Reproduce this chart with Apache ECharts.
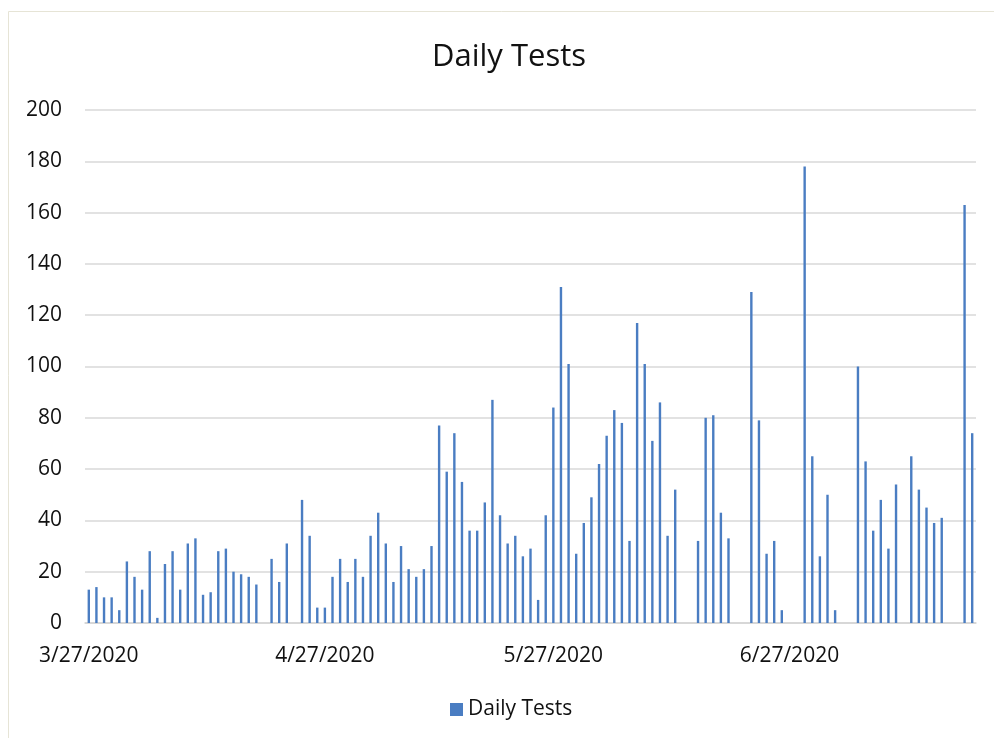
<!DOCTYPE html>
<html>
<head>
<meta charset="utf-8">
<script src="https://cdn.jsdelivr.net/npm/echarts@6/dist/echarts.min.js"></script>
<style>
html,body{margin:0;padding:0;background:#fff;}
#chart{width:994px;height:738px;}
</style>
</head>
<body>
<div id="chart"></div>
<script>
var dates = [
 '3/27/2020','3/28/2020','3/29/2020','3/30/2020','3/31/2020',
 '4/1/2020','4/2/2020','4/3/2020','4/4/2020','4/5/2020','4/6/2020','4/7/2020','4/8/2020','4/9/2020','4/10/2020',
 '4/11/2020','4/12/2020','4/13/2020','4/14/2020','4/15/2020','4/16/2020','4/17/2020','4/18/2020','4/19/2020','4/20/2020',
 '4/21/2020','4/22/2020','4/23/2020','4/24/2020','4/25/2020','4/26/2020','4/27/2020','4/28/2020','4/29/2020','4/30/2020',
 '5/1/2020','5/2/2020','5/3/2020','5/4/2020','5/5/2020','5/6/2020','5/7/2020','5/8/2020','5/9/2020','5/10/2020',
 '5/11/2020','5/12/2020','5/13/2020','5/14/2020','5/15/2020','5/16/2020','5/17/2020','5/18/2020','5/19/2020','5/20/2020',
 '5/21/2020','5/22/2020','5/23/2020','5/24/2020','5/25/2020','5/26/2020','5/27/2020','5/28/2020','5/29/2020','5/30/2020','5/31/2020',
 '6/1/2020','6/2/2020','6/3/2020','6/4/2020','6/5/2020','6/6/2020','6/7/2020','6/8/2020','6/9/2020','6/10/2020',
 '6/11/2020','6/12/2020','6/13/2020','6/14/2020','6/15/2020','6/16/2020','6/17/2020','6/18/2020','6/19/2020','6/20/2020',
 '6/21/2020','6/22/2020','6/23/2020','6/24/2020','6/25/2020','6/26/2020','6/27/2020','6/28/2020','6/29/2020','6/30/2020',
 '7/1/2020','7/2/2020','7/3/2020','7/4/2020','7/5/2020','7/6/2020','7/7/2020','7/8/2020','7/9/2020','7/10/2020',
 '7/11/2020','7/12/2020','7/13/2020','7/14/2020','7/15/2020','7/16/2020','7/17/2020','7/18/2020','7/19/2020','7/20/2020','7/21/2020'
];
var dailyTests = [
 13,14,10,10,5,
 24,18,13,28,2,23,28,13,31,33,
 11,12,28,29,20,19,18,15,null,25,
 16,31,null,48,34,6,6,18,25,16,
 25,18,34,43,31,16,30,21,18,21,
 30,77,59,74,55,36,36,47,87,42,
 31,34,26,29,9,42,84,131,101,27,39,
 49,62,73,83,78,32,117,101,71,86,
 34,52,null,null,32,80,81,43,33,null,
 null,129,79,27,32,5,null,null,178,65,
 26,50,5,null,null,100,63,36,48,29,
 54,null,65,52,45,39,41,null,null,163,74
];
var xTickLabels = ['3/27/2020','4/27/2020','5/27/2020','6/27/2020'];
var yTicks = [0,20,40,60,80,100,120,140,160,180,200];

var FONT = '"Open Sans", "Noto Sans", sans-serif';
var chart = echarts.init(document.getElementById('chart'), null, {renderer:'canvas'});
chart.setOption({
  animation:false,
  backgroundColor:'#fff',
  graphic:[{type:'rect', shape:{x:8.5,y:11.5,width:1000,height:1000}, style:{fill:'none', stroke:'#e6e4d6', lineWidth:1}, z:-1}],
  title:{text:'Daily Tests', left:427, top:37, textStyle:{fontFamily:FONT, fontSize:31, fontWeight:'normal', color:'#111'}},
  legend:{data:['Daily Tests'], bottom:13, left:445, icon:'rect', itemWidth:13, itemHeight:13, itemGap:8,
    textStyle:{fontFamily:FONT, fontSize:21, color:'#111'}},
  grid:{left:85, right:18, top:110, bottom:115, containLabel:false},
  xAxis:{type:'category', data:dates, boundaryGap:true,
    axisLine:{show:true, lineStyle:{color:'#d4d4d4', width:1.5}},
    axisTick:{show:false},
    axisLabel:{fontFamily:FONT, fontSize:21, color:'#111', margin:23,
      interval:function(i, v){ return xTickLabels.indexOf(v) >= 0; },
      showMinLabel:true}
  },
  yAxis:{type:'value', min:yTicks[0], max:yTicks[yTicks.length-1], interval:20,
    axisLine:{show:false}, axisTick:{show:false},
    splitLine:{lineStyle:{color:'#d9d9d9', width:1.5}},
    axisLabel:{fontFamily:FONT, fontSize:21, color:'#111', margin:23}
  },
  series:[{name:'Daily Tests', type:'bar', data:dailyTests, barWidth:2.4,
    itemStyle:{color:'#4a7dc2'}}]
});
</script>
</body>
</html>
